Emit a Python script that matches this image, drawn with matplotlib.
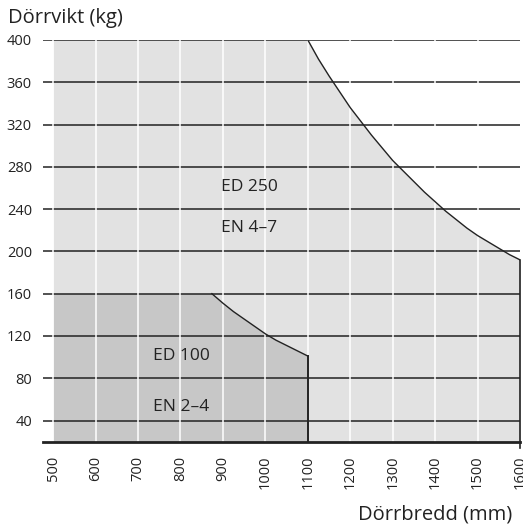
import matplotlib.pyplot as plt
import numpy as np

plt.rcParams['font.family'] = ['Open Sans', 'DejaVu Sans']

# ED 250 region (light): flat 400 kg up to 1100 mm, then falling curve
ed250_x = [500, 1100, 1125, 1150, 1175, 1200, 1225, 1250, 1275, 1300, 1325, 1350,
           1375, 1400, 1425, 1450, 1475, 1500, 1525, 1550, 1575, 1600]
ed250_y = [400, 400, 382, 366, 351, 336, 323, 310, 298, 286, 276, 266,
           256, 247, 238, 230, 222, 215, 209, 203, 197, 192]

# ED 100 region (dark): flat 160 kg up to ~874 mm, then curve to 1100 mm
ed100_x = [500, 874, 900, 925, 950, 975, 1000, 1025, 1050, 1075, 1100]
ed100_y = [160, 160, 151, 143, 136, 129, 122, 116, 111, 106, 101]

y_ticks = [40, 80, 120, 160, 200, 240, 280, 320, 360, 400]
x_ticks = [500, 600, 700, 800, 900, 1000, 1100, 1200, 1300, 1400, 1500, 1600]

labels = [("ED 250", 962, 261), ("EN 4\u20137", 962, 222),
          ("ED 100", 802, 101), ("EN 2\u20134", 802, 53)]

ymin = 20
dark = '#222222'

fig = plt.figure(figsize=(5.23, 5.26), dpi=100)
ax = fig.add_axes([0.0822, 0.1603, 0.9121, 0.7637])

ax.fill_between(ed250_x, ymin, ed250_y, color='#e2e2e2', lw=0, zorder=1)
ax.fill_between(ed100_x, ymin, ed100_y, color='#c7c7c7', lw=0, zorder=1.5)

for y in y_ticks:
    ax.axhline(y, color=dark, lw=1.1, zorder=2)

for x in x_ticks[:-1]:
    ax.axvline(x, color='white', lw=1.1, zorder=3)

# outlines
ax.plot(ed250_x[1:], ed250_y[1:], color=dark, lw=1.0, zorder=4)
ax.plot([1600, 1600], [ed250_y[-1], 14], color=dark, lw=1.2, zorder=4, clip_on=False)
ax.plot(ed100_x[1:], ed100_y[1:], color=dark, lw=1.0, zorder=4)
ax.plot([1100, 1100], [ed100_y[-1], ymin], color=dark, lw=1.4, zorder=4)

for txt, x, y in labels:
    ax.text(x, y, txt, ha='center', va='center', fontsize=12.5, color=dark, zorder=5)

ax.set_xlim(476, 1600)
ax.set_ylim(ymin, 400)

for s in ['top', 'right', 'left']:
    ax.spines[s].set_visible(False)
ax.spines['bottom'].set_linewidth(2)
ax.spines['bottom'].set_color(dark)
ax.spines['bottom'].set_zorder(6)

ax.set_yticks(y_ticks)
ax.set_xticks(x_ticks)
ax.set_xticklabels([str(v) for v in x_ticks], rotation=90)
ax.tick_params(axis='both', length=0, labelsize=10.5, colors=dark)
ax.tick_params(axis='y', pad=8)
ax.tick_params(axis='x', pad=10)

fig.text(0.015, 0.965, "D\u00f6rrvikt (kg)", fontsize=14.5, color=dark, ha='left', va='center')
fig.text(0.98, 0.022, "D\u00f6rrbredd (mm)", fontsize=14.5, color=dark, ha='right', va='center')

fig.savefig('out.png', dpi=100)
